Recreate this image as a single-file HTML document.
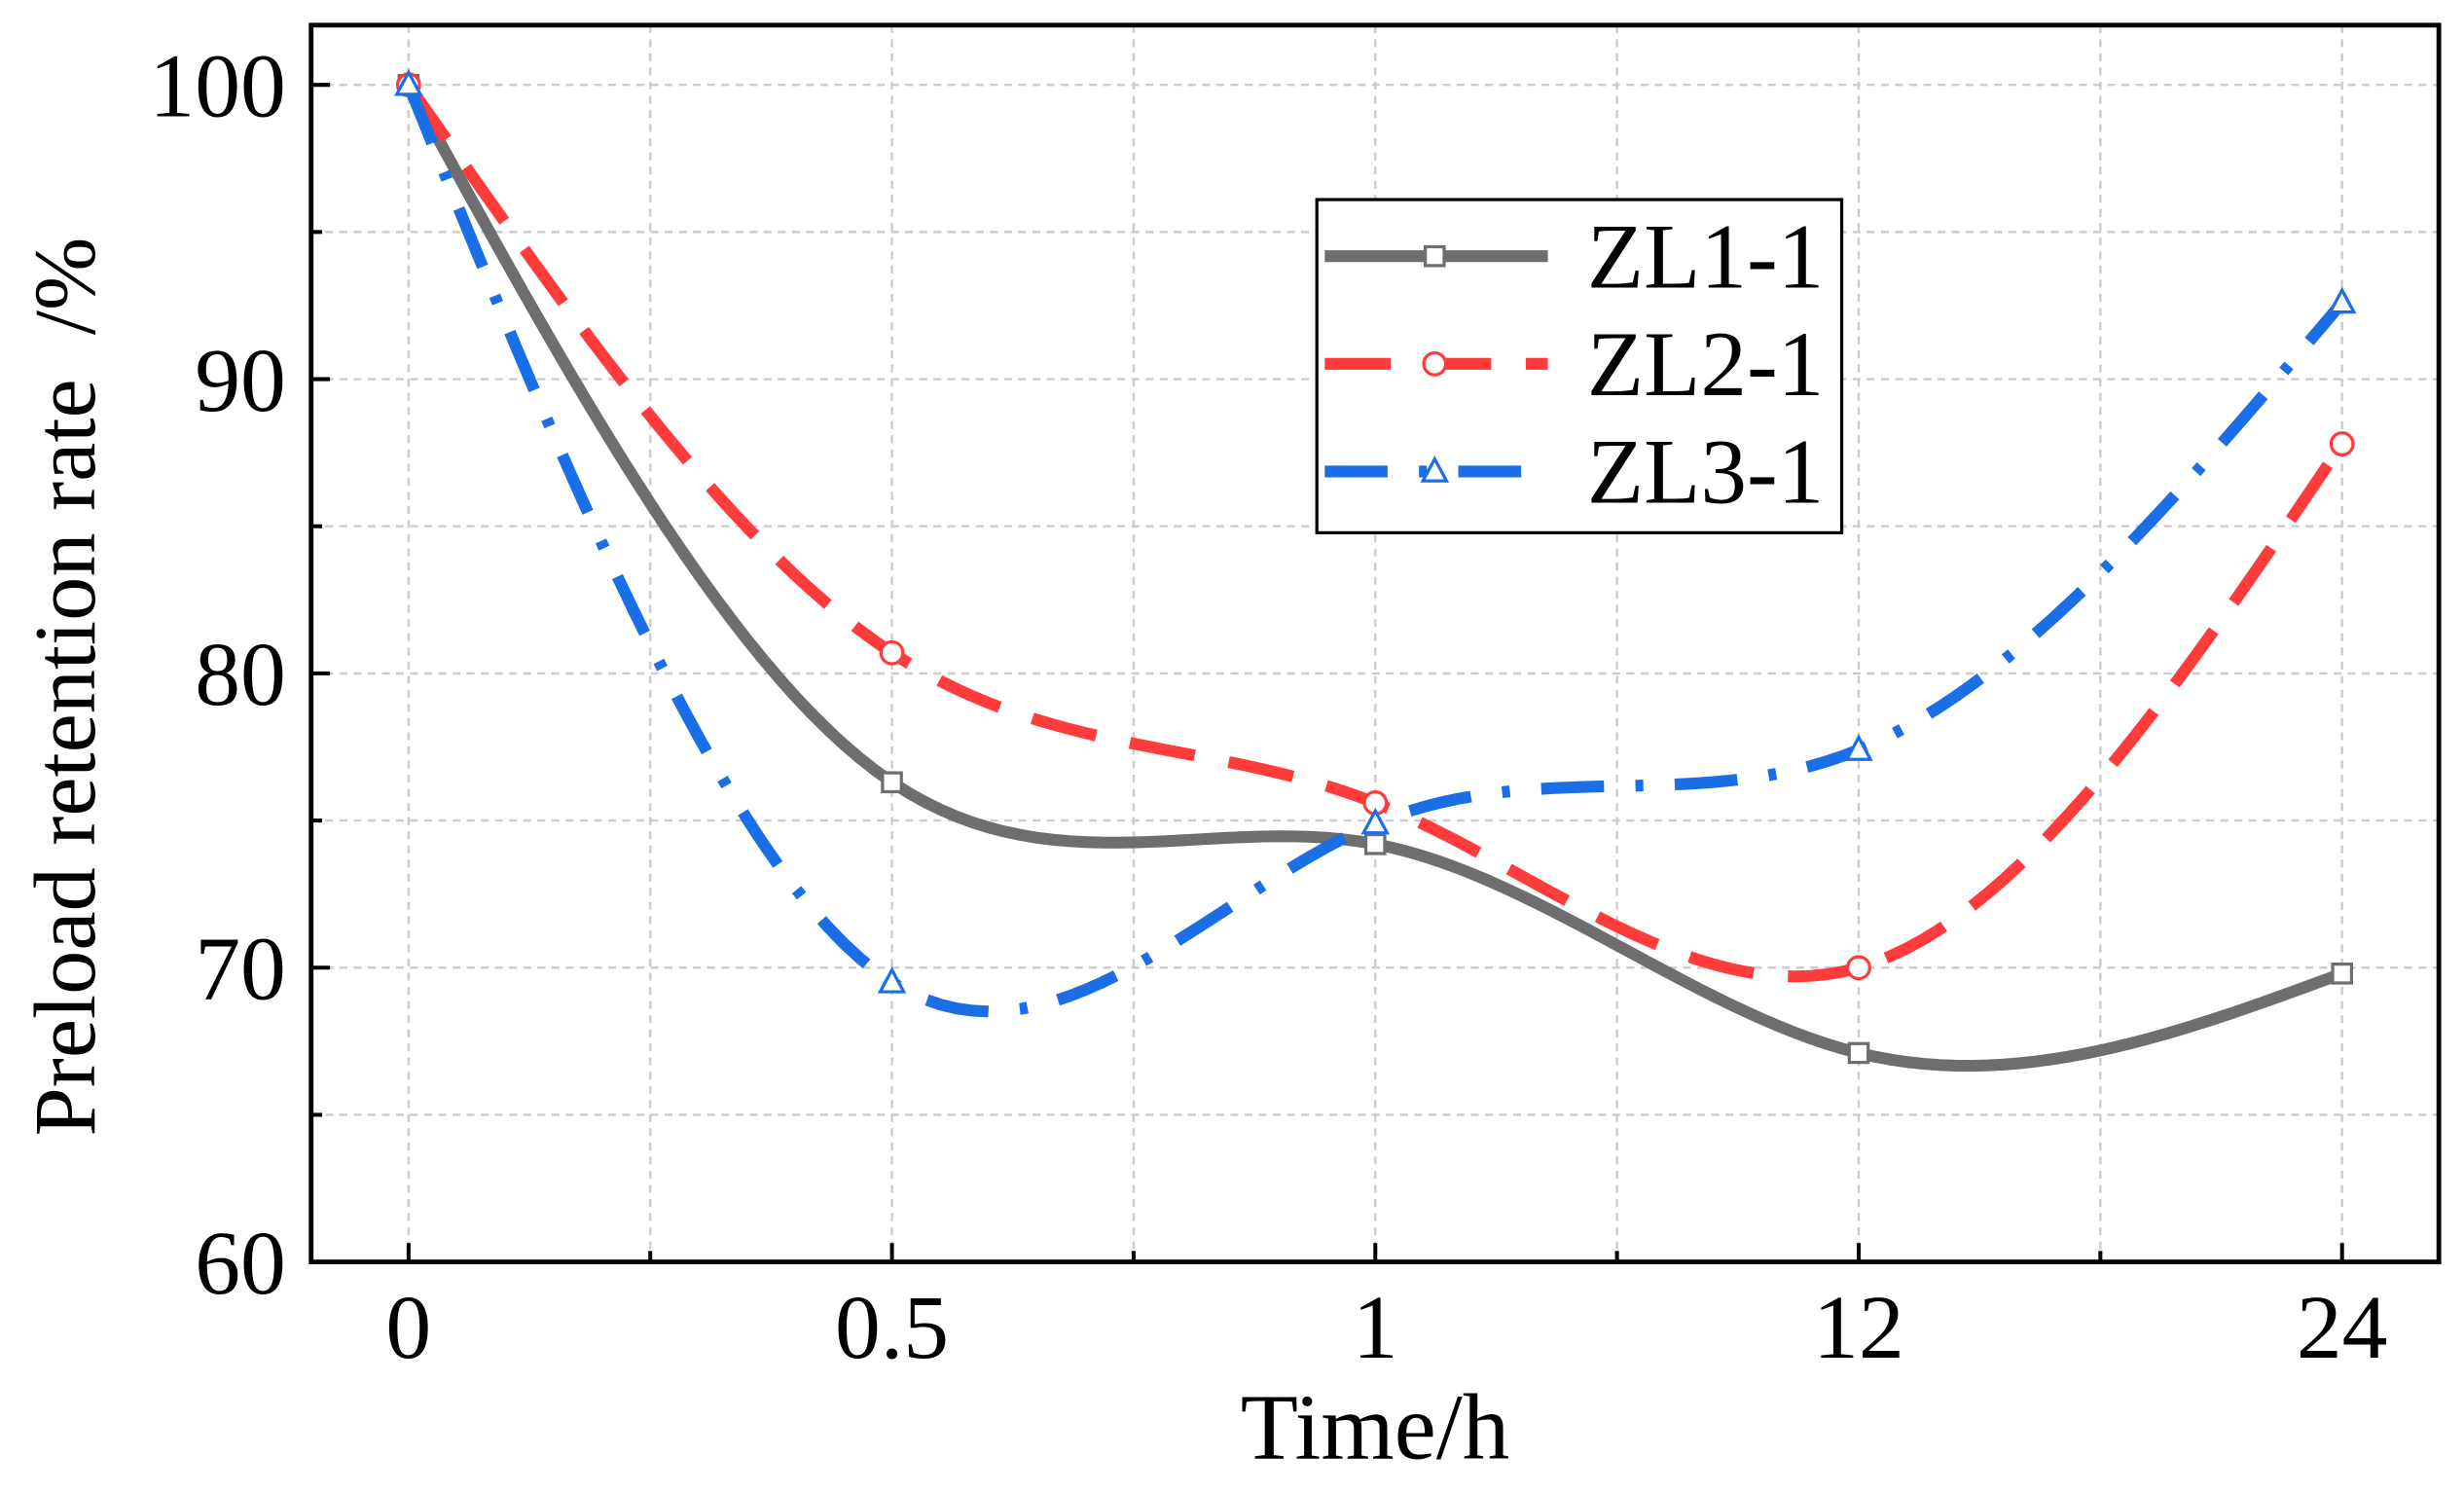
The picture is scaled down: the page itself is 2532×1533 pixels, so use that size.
<!DOCTYPE html>
<html><head><meta charset="utf-8"><style>
html,body{margin:0;padding:0;background:#fff;}
svg{display:block;font-family:"Liberation Serif",serif;}
</style></head><body>
<svg id="chart" width="2532" height="1533" viewBox="0 0 1568 949.4" preserveAspectRatio="none" xmlns="http://www.w3.org/2000/svg">
<g id="grid"></g>
<g id="series"></g>
<rect x="198" y="16" width="1354" height="787" fill="none" stroke="#000" stroke-width="3"/>
<g id="axes"></g>
<text x="875" y="928" font-size="60" text-anchor="middle">Time/h</text>
<text transform="translate(60,437) rotate(-90)" font-size="56" text-anchor="middle" style="white-space:pre">Preload retention rate  /%</text>
<g>
<rect x="838" y="127" width="334" height="212" fill="#fff" stroke="#000" stroke-width="2"/>
<g id="legend-items"></g>
</g>
</svg>
<script>
const categories = ["0","0.5","1","12","24"];
const zl1 = [100, 76.3, 74.2, 67.1, 69.8];
const zl2 = [100, 80.7, 75.6, 70.0, 87.8];
const zl3 = [100, 69.5, 74.9, 77.4, 92.6];
const yTicks = [60, 70, 80, 90, 100];
const seriesNames = ["ZL1-1","ZL2-1","ZL3-1"];

const NS="http://www.w3.org/2000/svg";
const X0=260, DX=307.6, Y0=803, YS=18.725;
const xs=i=>X0+i*DX;
const ys=v=>Y0-(v-60)*YS;
function mk(tag,attrs,parent){const e=document.createElementNS(NS,tag);for(const k in attrs)e.setAttribute(k,attrs[k]);parent.appendChild(e);return e;}
const grid=document.getElementById('grid'), axes=document.getElementById('axes'), ser=document.getElementById('series');
for(let v=65;v<=100;v+=5){const l=mk('line',{x1:198,x2:1552,y1:ys(v),y2:ys(v),stroke:'#ccc','stroke-width':1.5,'stroke-dasharray':'5,4'},grid);

}
for(let i=0;i<=8;i++){const x=X0+i*DX/2;if(x>1552)break;const l=mk('line',{x1:x,x2:x,y1:16,y2:803,stroke:'#ccc','stroke-width':1.5,'stroke-dasharray':'5,4'},grid);

}
for(let v=60;v<=100;v+=5){const major=v%10===0;const t=mk('line',{x1:198,x2:198+(major?12:7),y1:ys(v),y2:ys(v),stroke:'#000','stroke-width':2.5},axes);

}
yTicks.forEach(v=>{const t=mk('text',{x:182,y:ys(v)+20,'font-size':58,'text-anchor':'end'},axes);t.textContent=v;

});
categories.forEach((c,i)=>{const t=mk('line',{x1:xs(i),x2:xs(i),y1:803,y2:791,stroke:'#000','stroke-width':2.5},axes);


if(i<categories.length-1){const m=mk('line',{x1:xs(i)+DX/2,x2:xs(i)+DX/2,y1:803,y2:796,stroke:'#000','stroke-width':2.5},axes);

}
const l=mk('text',{x:xs(i),y:864,'font-size':58,'text-anchor':'middle'},axes);l.textContent=c;

});
function spline(vals){const n=vals.length;const y=vals.map(ys);const a=new Array(n).fill(0),b=new Array(n).fill(0),c=new Array(n).fill(0),d=new Array(n).fill(0),M=new Array(n).fill(0);
for(let i=1;i<n-1;i++){a[i]=1;b[i]=4;c[i]=1;d[i]=6*(y[i+1]-2*y[i]+y[i-1]);}
b[0]=1;b[n-1]=1;
for(let i=1;i<n;i++){const w=a[i]/b[i-1];b[i]-=w*c[i-1];d[i]-=w*d[i-1];}
M[n-1]=d[n-1]/b[n-1];for(let i=n-2;i>=0;i--)M[i]=(d[i]-c[i]*M[i+1])/b[i];
let p='';for(let i=0;i<n-1;i++){for(let k=0;k<=30;k++){const t=k/30;const s=1-t;
const v=s*y[i]+t*y[i+1]+((s*s*s-s)*M[i]+(t*t*t-t)*M[i+1])/6;p+=(p?'L':'M')+(xs(i)+t*DX).toFixed(2)+','+v.toFixed(2);}}return p;}
const styles=[{col:'#6e6e6e',dash:'',mk:'sq'},{col:'#ff3b3b',dash:'42,22',mk:'ci'},{col:'#1a6ee6',dash:'40,20,5,20',mk:'tr'}];
function marker(type,x,y,col,parent,name){let e;
if(type==='sq')e=mk('rect',{x:x-6,y:y-6,width:12,height:12,fill:'#fff',stroke:col,'stroke-width':2},parent);
else if(type==='ci')e=mk('circle',{cx:x,cy:y,r:7,fill:'#fff',stroke:col,'stroke-width':2},parent);
else e=mk('polygon',{points:`${x},${y-8} ${x-7.5},${y+6} ${x+7.5},${y+6}`,fill:'#fff',stroke:col,'stroke-width':2},parent);

}
[zl1,zl2,zl3].forEach((vals,si)=>{const st=styles[si];
const p=mk('path',{d:spline(vals),fill:'none',stroke:st.col,'stroke-width':7.5,'stroke-dasharray':st.dash,'stroke-linecap':'butt'},ser);


vals.forEach((v,i)=>marker(st.mk,xs(i),ys(v),st.col,ser,'point-'+seriesNames[si].toLowerCase()));});
const li=document.getElementById('legend-items');
seriesNames.forEach((nm,i)=>{const y=163+i*68.5;const st=styles[i];
const l=mk('line',{x1:843,x2:985,y1:y,y2:y,stroke:st.col,'stroke-width':7.5,'stroke-dasharray':st.dash},li);


marker(st.mk,913,y,st.col,li,'legend-marker');
const t=mk('text',{x:1010,y:y+20,'font-size':59},li);t.textContent=nm;

});
</script>
</body></html>
